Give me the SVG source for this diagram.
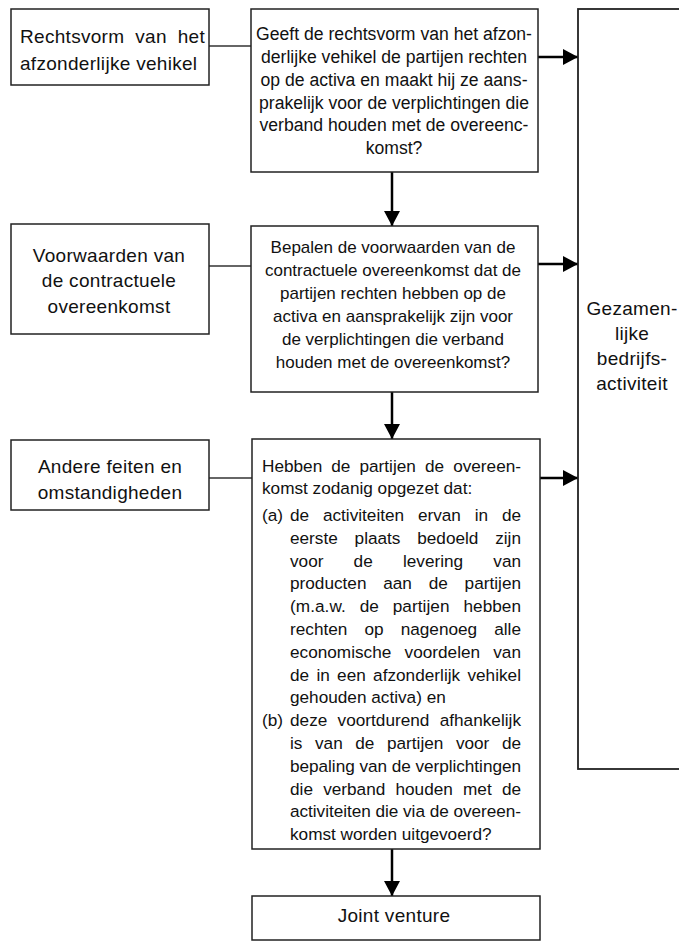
<svg xmlns="http://www.w3.org/2000/svg" width="679" height="941" viewBox="0 0 679 941">
<style>
.box{fill:#fff;stroke:#222;stroke-width:1.5}
.link{stroke:#333;stroke-width:1.3;fill:none}
.arr{stroke:#000;stroke-width:2.5;fill:none;marker-end:url(#ah)}
text{font-family:"Liberation Sans",Arial,Helvetica,sans-serif;fill:#111}
.side{font-size:19px;letter-spacing:0.3px}
.c{text-anchor:middle}
.m1{font-size:17.6px}
.m2{font-size:17px}
.m3{font-size:17.2px}
</style>
<defs>
<marker id="ah" markerUnits="userSpaceOnUse" markerWidth="16" markerHeight="16" viewBox="0 0 16 16" refX="15" refY="8" orient="auto">
<path d="M0,0 L15,8 L0,16 Z" fill="#000"/>
</marker>
</defs>
<g id="connectors">
<line class="link" x1="209" y1="46" x2="251" y2="46"/>
<line class="link" x1="209" y1="266" x2="251" y2="266"/>
<line class="link" x1="209" y1="478" x2="252" y2="478"/>
<line class="arr" x1="538" y1="57" x2="578" y2="57"/>
<line class="arr" x1="538" y1="264" x2="578" y2="264"/>
<line class="arr" x1="540" y1="478" x2="578" y2="478"/>
<line class="arr" x1="392" y1="172" x2="392" y2="226"/>
<line class="arr" x1="392" y1="392" x2="392" y2="439"/>
<line class="arr" x1="392" y1="849" x2="392" y2="896"/>
</g>
<g id="right-box">
<rect class="box" x="578" y="9" width="120" height="760" style="stroke-width:1.8"/>
<text class="side c" x="632" y="315">Gezamen-</text>
<text class="side c" x="632" y="340">lijke</text>
<text class="side c" x="632" y="365">bedrijfs-</text>
<text class="side c" x="632" y="390">activiteit</text>
</g>
<g id="left1">
<rect class="box" x="11" y="9" width="198" height="76"/>
<text class="side" x="20" y="43" style="word-spacing:5.3px" textLength="185" lengthAdjust="spacing">Rechtsvorm van het</text>
<text class="side" x="20" y="70">afzonderlijke vehikel</text>
</g>
<g id="left2">
<rect class="box" x="11" y="224" width="198" height="110"/>
<text class="side c" x="109" y="262">Voorwaarden van</text>
<text class="side c" x="109" y="287">de contractuele</text>
<text class="side c" x="109" y="313">overeenkomst</text>
</g>
<g id="left3">
<rect class="box" x="11" y="440" width="198" height="70"/>
<text class="side c" x="110" y="473">Andere feiten en</text>
<text class="side c" x="110" y="499">omstandigheden</text>
</g>
<g id="q1">
<rect class="box" x="251" y="9" width="287" height="163"/>
<text class="m1 c" x="394" y="40">Geeft de rechtsvorm van het afzon-</text>
<text class="m1 c" x="394" y="63">derlijke vehikel de partijen rechten</text>
<text class="m1 c" x="394" y="86">op de activa en maakt hij ze aans-</text>
<text class="m1 c" x="394" y="109">prakelijk voor de verplichtingen die</text>
<text class="m1 c" x="394" y="131">verband houden met de overeenc-</text>
<text class="m1 c" x="394" y="154">komst?</text>
</g>
<g id="q2">
<rect class="box" x="251" y="226" width="287" height="166"/>
<text class="m2 c" x="393" y="253">Bepalen de voorwaarden van de</text>
<text class="m2 c" x="393" y="276">contractuele overeenkomst dat de</text>
<text class="m2 c" x="393" y="299">partijen rechten hebben op de</text>
<text class="m2 c" x="393" y="322">activa en aansprakelijk zijn voor</text>
<text class="m2 c" x="393" y="345">de verplichtingen die verband</text>
<text class="m2 c" x="393" y="368">houden met de overeenkomst?</text>
</g>
<g id="q3">
<rect class="box" x="252" y="439" width="288" height="410"/>
<text class="m3" x="262" y="472" style="word-spacing:4.3px" textLength="259" lengthAdjust="spacing">Hebben de partijen de overeen-</text>
<text class="m3" x="262" y="494">komst zodanig opgezet dat:</text>
<text class="m3" x="262" y="521">(a)</text>
<text class="m3" x="290" y="521" style="word-spacing:9px" textLength="231" lengthAdjust="spacing">de activiteiten ervan in de</text>
<text class="m3" x="290" y="544" style="word-spacing:12px" textLength="231" lengthAdjust="spacing">eerste plaats bedoeld zijn</text>
<text class="m3" x="290" y="567" style="word-spacing:25.4px" textLength="231" lengthAdjust="spacing">voor de levering van</text>
<text class="m3" x="290" y="589" style="word-spacing:12px" textLength="231" lengthAdjust="spacing">producten aan de partijen</text>
<text class="m3" x="290" y="612" style="word-spacing:9.1px" textLength="231" lengthAdjust="spacing">(m.a.w. de partijen hebben</text>
<text class="m3" x="290" y="635" style="word-spacing:12.3px" textLength="231" lengthAdjust="spacing">rechten op nagenoeg alle</text>
<text class="m3" x="290" y="658" style="word-spacing:8.4px" textLength="231" lengthAdjust="spacing">economische voordelen van</text>
<text class="m3" x="290" y="681" style="word-spacing:2.5px" textLength="231" lengthAdjust="spacing">de in een afzonderlijk vehikel</text>
<text class="m3" x="290" y="703">gehouden activa) en</text>
<text class="m3" x="262" y="726">(b)</text>
<text class="m3" x="290" y="726" style="word-spacing:5.5px" textLength="231" lengthAdjust="spacing">deze voortdurend afhankelijk</text>
<text class="m3" x="290" y="749" style="word-spacing:7.8px" textLength="231" lengthAdjust="spacing">is van de partijen voor de</text>
<text class="m3" x="290" y="772" textLength="231" lengthAdjust="spacing">bepaling van de verplichtingen</text>
<text class="m3" x="290" y="795" style="word-spacing:5.4px" textLength="231" lengthAdjust="spacing">die verband houden met de</text>
<text class="m3" x="290" y="817" textLength="231" lengthAdjust="spacing">activiteiten die via de overeen-</text>
<text class="m3" x="290" y="840">komst worden uitgevoerd?</text>
</g>
<g id="jv">
<rect class="box" x="252" y="896" width="288" height="44"/>
<text class="side c" x="394" y="922">Joint venture</text>
</g>
</svg>
